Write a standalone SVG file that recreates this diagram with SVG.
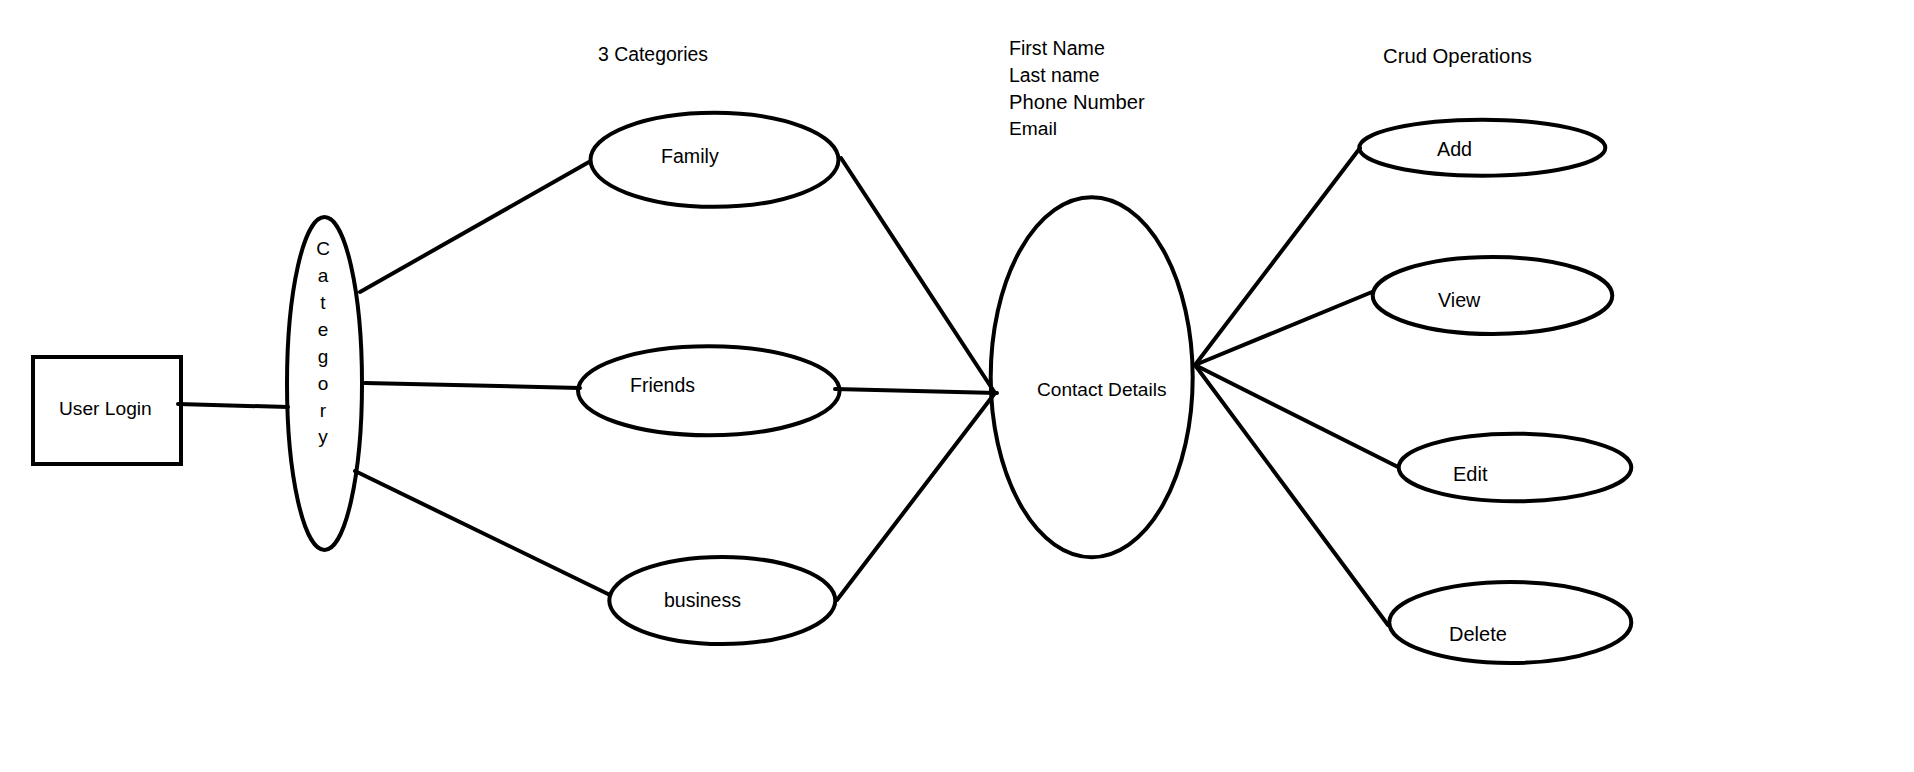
<svg xmlns="http://www.w3.org/2000/svg" width="1914" height="772" viewBox="0 0 1914 772">
<style>
.shape{fill:none;stroke:#000;stroke-width:4}
.ln{stroke:#000;stroke-width:4;stroke-linecap:round;fill:none}
text{font-family:"Liberation Sans",Arial,sans-serif;fill:#000}
</style>
<rect width="1914" height="772" fill="#fff"/>
<g id="connectors">
<line class="ln" x1="178" y1="404" x2="288" y2="407"/>
<line class="ln" x1="360" y1="292" x2="589" y2="162"/>
<line class="ln" x1="365" y1="383" x2="580" y2="388"/>
<line class="ln" x1="355" y1="471" x2="610" y2="595"/>
<line class="ln" x1="841" y1="158" x2="995" y2="393"/>
<line class="ln" x1="835" y1="389" x2="997" y2="393"/>
<line class="ln" x1="837" y1="600" x2="995" y2="393"/>
<line class="ln" x1="1195" y1="365" x2="1360" y2="148"/>
<line class="ln" x1="1195" y1="365" x2="1372" y2="292"/>
<line class="ln" x1="1195" y1="365" x2="1398" y2="467"/>
<line class="ln" x1="1195" y1="365" x2="1388" y2="625"/>
</g>
<g id="user-login">
<rect class="shape" x="33" y="357" width="148" height="107"/>
<text x="59" y="415" font-size="19.2">User Login</text>
</g>
<g id="category">
<ellipse class="shape" cx="324.5" cy="383.5" rx="37.5" ry="166.5"/>
<g font-size="19" text-anchor="middle">
<text x="323" y="255">C</text>
<text x="323" y="282">a</text>
<text x="323" y="309">t</text>
<text x="323" y="336">e</text>
<text x="323" y="363">g</text>
<text x="323" y="390">o</text>
<text x="323" y="417">r</text>
<text x="323" y="443">y</text>
</g>
</g>
<g id="label-3-categories">
<text x="598" y="60.7" font-size="19.4">3 Categories</text>
</g>
<g id="family">
<ellipse class="shape" cx="714.5" cy="159.8" rx="124" ry="47"/>
<text x="661" y="163.3" font-size="19.6">Family</text>
</g>
<g id="friends">
<ellipse class="shape" cx="708.8" cy="390.8" rx="130.8" ry="44.5"/>
<text x="630" y="392" font-size="19.5">Friends</text>
</g>
<g id="business">
<ellipse class="shape" cx="722.3" cy="600.5" rx="113" ry="43.5"/>
<text x="664" y="607" font-size="19.5">business</text>
</g>
<g id="fields">
<text x="1009" y="55" font-size="19.6">First Name</text>
<text x="1009" y="81.7" font-size="19.4">Last name</text>
<text x="1009" y="109" font-size="20.2">Phone Number</text>
<text x="1009" y="135" font-size="19.2">Email</text>
</g>
<g id="contact-details">
<ellipse class="shape" cx="1091.7" cy="377.2" rx="101" ry="180"/>
<text x="1037" y="396" font-size="19.1">Contact Details</text>
</g>
<g id="label-crud">
<text x="1383" y="62.7" font-size="20.3">Crud Operations</text>
</g>
<g id="add">
<ellipse class="shape" cx="1482.3" cy="147.7" rx="123" ry="28"/>
<text x="1437" y="156" font-size="19.7">Add</text>
</g>
<g id="view">
<ellipse class="shape" cx="1492.5" cy="295.5" rx="119.8" ry="38.5"/>
<text x="1438" y="306.7" font-size="19.7">View</text>
</g>
<g id="edit">
<ellipse class="shape" cx="1515" cy="467.5" rx="116.3" ry="33.8"/>
<text x="1453" y="480.7" font-size="20">Edit</text>
</g>
<g id="delete">
<ellipse class="shape" cx="1510.3" cy="622.5" rx="121" ry="40.5"/>
<text x="1449" y="640.7" font-size="20">Delete</text>
</g>
</svg>
